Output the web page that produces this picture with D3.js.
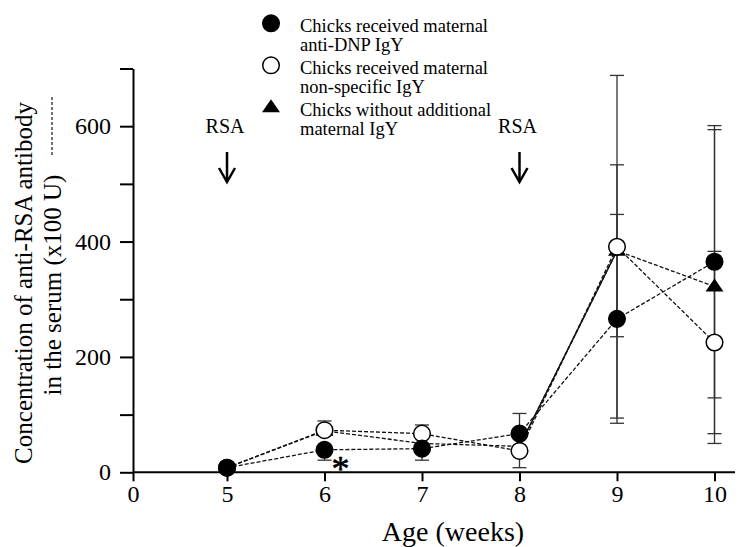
<!DOCTYPE html>
<html>
<head>
<meta charset="utf-8">
<script src="https://cdn.jsdelivr.net/npm/d3@7.9.0/dist/d3.min.js"></script>
<style>
  body { margin: 0; background: #fff; }
  svg { display: block; font-family: "Liberation Serif", "Times New Roman", serif; }
</style>
</head>
<body>
<svg width="747" height="547"></svg>
<script>
// values
const weeks = [5, 6, 7, 8, 9, 10];

const dnpMean = [8, 39, 41, 67, 266, 365];
const dnpErrUp = [0, 0, 0, 35, 181, 236];
const dnpErrDown = [0, 18, 20, 0, 181, 236];

const nonspecMean = [8, 73, 67, 37, 391, 225];
const nonspecErrUp = [0, 16, 15, 0, 297, 158];
const nonspecErrDown = [0, 0, 0, 29, 297, 158];

const noIgyMean = [8, 72, 50, 45, 384, 322];
const noIgyErrUp = [0, 0, 0, 0, 149, 272];
const noIgyErrDown = [0, 0, 0, 0, 149, 272];

const xTicks = [0, 5, 6, 7, 8, 9, 10];
const yMajor = [0, 200, 400, 600];
const yMinor = [100, 300, 500, 700];
const rsaWeeks = [5, 8];

const legendText = [
  ["Chicks received maternal", "anti-DNP IgY"],
  ["Chicks received maternal", "non-specific IgY"],
  ["Chicks without additional", "maternal IgY"],
];

const svg = d3.select("svg");

// x axis is compressed between 0 and 5
const x = d3.scaleLinear().domain([0, 5, 10]).range([133, 227, 714.5]);
const y = d3.scaleLinear().domain([0, 700]).range([472.3, 68.5]);

const series = [
  { mean: noIgyMean, up: noIgyErrUp, down: noIgyErrDown, shape: "tri" },
  { mean: nonspecMean, up: nonspecErrUp, down: nonspecErrDown, shape: "open" },
  { mean: dnpMean, up: dnpErrUp, down: dnpErrDown, shape: "filled" },
];

// error bars
const errG = svg.append("g").attr("stroke", "#333").attr("stroke-width", 1.3);
series.forEach((s) => {
  weeks.forEach((w, i) => {
    const cx = x(w);
    const bars = [];
    if (s.up[i] > 0) bars.push(s.mean[i] + s.up[i]);
    if (s.down[i] > 0) bars.push(s.mean[i] - s.down[i]);
    bars.forEach((v) => {
      errG.append("line")
        .attr("x1", cx).attr("x2", cx)
        .attr("y1", y(s.mean[i])).attr("y2", y(v));
      errG.append("line")
        .attr("x1", cx - 7).attr("x2", cx + 7)
        .attr("y1", y(v)).attr("y2", y(v));
    });
  });
});

// lines
const line = d3.line().x((d) => x(d[0])).y((d) => y(d[1]));
series.forEach((s) => {
  svg.append("path")
    .attr("d", line(weeks.map((w, i) => [w, s.mean[i]])))
    .attr("fill", "none")
    .attr("stroke", "#111")
    .attr("stroke-width", 1.3)
    .attr("stroke-dasharray", "4,2");
});
// the 8 -> 9 week segment of the no-IgY group is drawn solid
svg.append("path")
  .attr("d", line([[8, noIgyMean[3]], [9, noIgyMean[4]]]))
  .attr("fill", "none")
  .attr("stroke", "#111")
  .attr("stroke-width", 1.4);

// markers
function drawMarker(g, shape, cx, cy) {
  if (shape === "tri") {
    g.append("path")
      .attr("d", "M0,-8 L9,5 L-9,5 Z")
      .attr("transform", `translate(${cx},${cy})`)
      .attr("fill", "#000");
  } else {
    g.append("circle")
      .attr("cx", cx).attr("cy", cy).attr("r", 8.3)
      .attr("fill", shape === "filled" ? "#000" : "#fff")
      .attr("stroke", "#000")
      .attr("stroke-width", 1.5);
  }
}
const markG = svg.append("g");
series.forEach((s) => {
  weeks.forEach((w, i) => drawMarker(markG, s.shape, x(w), y(s.mean[i])));
});

// axes
const xAxis = svg.append("g")
  .attr("transform", `translate(0,${y(0)})`)
  .call(d3.axisBottom(x).tickValues(xTicks).tickSize(9).tickPadding(4));
xAxis.select(".domain").remove();
xAxis.append("line")
  .attr("x1", x(0)).attr("x2", 735)
  .attr("stroke", "#000").attr("stroke-width", 2);

const yAxis = svg.append("g")
  .attr("transform", `translate(${x(0)},0)`)
  .call(
    d3.axisLeft(y)
      .tickValues(yMajor.concat(yMinor))
      .tickSize(13)
      .tickSizeOuter(0)
      .tickPadding(9)
      .tickFormat((d) => (yMajor.includes(d) ? d : ""))
  );

svg.selectAll(".tick line").attr("stroke", "#000").attr("stroke-width", 2);
yAxis.select(".domain").attr("stroke", "#000").attr("stroke-width", 2);
svg.selectAll(".tick text")
  .attr("font-family", "Liberation Serif")
  .attr("font-size", 24)
  .attr("fill", "#000");

// axis titles
svg.append("text")
  .attr("x", 453).attr("y", 541)
  .attr("text-anchor", "middle")
  .attr("font-size", 28)
  .text("Age (weeks)");

svg.append("text")
  .attr("transform", "translate(32,283) rotate(-90)")
  .attr("text-anchor", "middle")
  .attr("font-size", 25)
  .text("Concentration of anti-RSA antibody");
svg.append("text")
  .attr("transform", "translate(61,285) rotate(-90)")
  .attr("text-anchor", "middle")
  .attr("font-size", 25)
  .text("in the serum (x100 U)");
svg.append("line")
  .attr("x1", 52).attr("x2", 52)
  .attr("y1", 97).attr("y2", 157)
  .attr("stroke", "#000").attr("stroke-width", 1.1)
  .attr("stroke-dasharray", "3,2");

// RSA injections
rsaWeeks.forEach((w) => {
  const ax = x(w);
  svg.append("text")
    .attr("x", ax - 2).attr("y", 133)
    .attr("text-anchor", "middle")
    .attr("font-size", 20)
    .text("RSA");
  svg.append("line")
    .attr("x1", ax).attr("x2", ax)
    .attr("y1", 152).attr("y2", 181)
    .attr("stroke", "#000").attr("stroke-width", 2.5);
  svg.append("path")
    .attr("d", `M${ax - 8},${168} L${ax},${182} L${ax + 8},${168}`)
    .attr("fill", "none")
    .attr("stroke", "#000").attr("stroke-width", 2.5);
});

// significance mark
svg.append("text")
  .attr("x", x(6) + 16).attr("y", 481)
  .attr("text-anchor", "middle")
  .attr("font-size", 36)
  .attr("stroke", "#000")
  .attr("stroke-width", 0.6)
  .text("*");

// legend
const legShapes = ["filled", "open", "tri"];
const legG = svg.append("g");
legendText.forEach((lines, i) => {
  const top = 23.3 + i * 42;
  drawMarker(legG, legShapes[i], 271, top);
  lines.forEach((t, j) => {
    legG.append("text")
      .attr("x", 300).attr("y", top + 8.5 + j * 19.5)
      .attr("font-size", 18.5)
      .text(t);
  });
});
</script>
</body>
</html>
